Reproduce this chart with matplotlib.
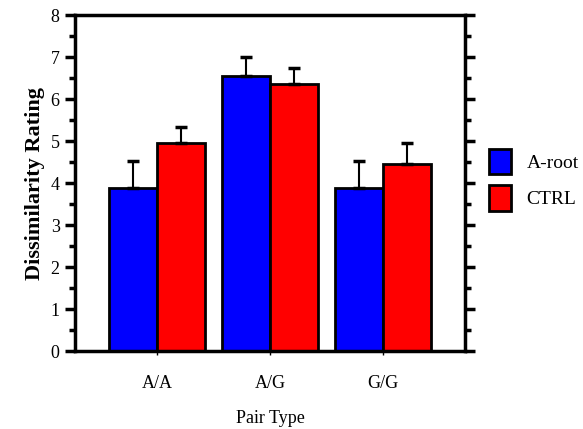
import numpy as np
import matplotlib.pyplot as plt
from matplotlib.ticker import MultipleLocator

# valeurs
pair_types = ['A/A', 'A/G', 'G/G']
aroot_mean = [3.88, 6.55, 3.88]
aroot_err = [0.64, 0.45, 0.64]
ctrl_mean = [4.95, 6.36, 4.45]
ctrl_err = [0.38, 0.38, 0.50]

plt.rcParams['font.family'] = ['Liberation Serif', 'DejaVu Serif']

fig = plt.figure(figsize=(5.83, 4.29), dpi=100)
ax = fig.add_axes([0.1286, 0.1818, 0.669, 0.783])

x = np.arange(len(pair_types))
w = 0.425
ax.bar(x - w / 2, aroot_mean, w, color='#0000ff', edgecolor='black',
       linewidth=2, label='A-root', zorder=2)
ax.bar(x + w / 2, ctrl_mean, w, color='#ff0000', edgecolor='black',
       linewidth=2, label='CTRL', zorder=2)
ax.errorbar(x - w / 2, aroot_mean, yerr=[np.zeros(3), aroot_err], fmt='none',
            ecolor='black', elinewidth=1.5, capsize=4, capthick=2.5, zorder=3)
ax.errorbar(x + w / 2, ctrl_mean, yerr=[np.zeros(3), ctrl_err], fmt='none',
            ecolor='black', elinewidth=1.5, capsize=4, capthick=2.5, zorder=3)

ax.set_xlim(-0.726, 2.726)
ax.set_ylim(0, 8)
ax.set_xticks(x)
ax.set_xticklabels(pair_types, fontsize=13)
ax.yaxis.set_major_locator(MultipleLocator(1))
ax.yaxis.set_minor_locator(MultipleLocator(0.5))
ax.tick_params(axis='y', which='major', direction='out', length=7, width=2.5,
               labelsize=13, right=True, pad=4)
ax.tick_params(axis='y', which='minor', direction='out', length=4, width=2.5,
               right=True)
ax.tick_params(axis='x', direction='out', length=3, width=1, pad=14)
for s in ax.spines.values():
    s.set_linewidth(2.5)

ax.set_ylabel('Dissimilarity Rating', fontsize=16, fontweight='semibold', labelpad=4)
ax.set_xlabel('Pair Type', fontsize=13, labelpad=13)

ax.legend(loc='center left', bbox_to_anchor=(1.026, 0.51), frameon=False,
          fontsize=14, handlelength=1.15, handleheight=1.65, handletextpad=0.8,
          labelspacing=0.55, borderaxespad=0.3)

plt.savefig('out.png', dpi=100)
